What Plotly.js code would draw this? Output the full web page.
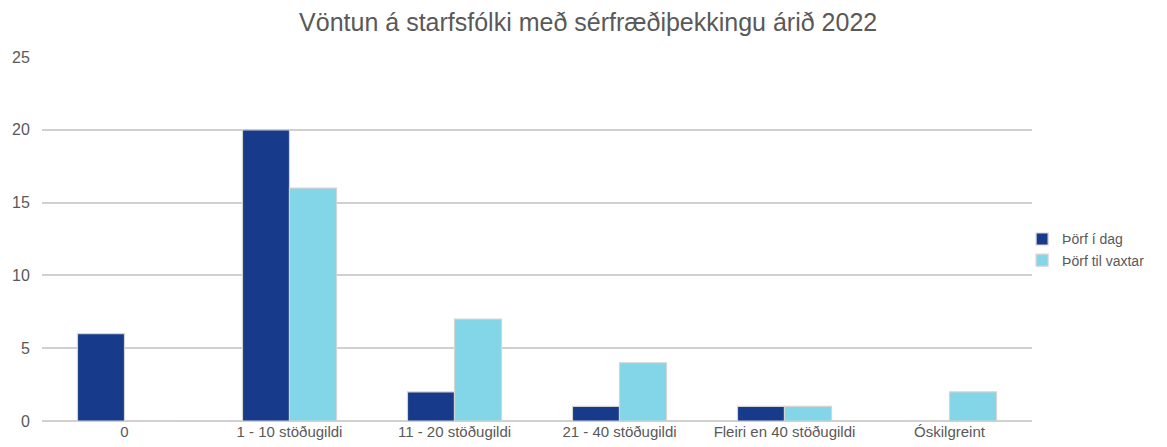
<!DOCTYPE html>
<html>
<head>
<meta charset="utf-8">
<script src="https://cdn.plot.ly/plotly-3.0.1.min.js"></script>
<style>html,body{margin:0;padding:0;background:#fff;}#chart{width:1167px;height:447px;}</style>
</head>
<body>
<div id="chart"></div>
<script>
const categories = ["0", "1 - 10 stöðugildi", "11 - 20 stöðugildi", "21 - 40 stöðugildi", "Fleiri en 40 stöðugildi", "Óskilgreint"];
const seriesNames = ["Þörf í dag", "Þörf til vaxtar"];
const thorfIDag = [6, 20, 2, 1, 1, 0];
const thorfTilVaxtar = [0, 16, 7, 4, 1, 2];
const yTicks = [0, 5, 10, 15, 20, 25];

const colors = ["#173A8A", "#82D6E8"];
const traces = [thorfIDag, thorfTilVaxtar].map((vals, i) => ({
  type: "bar",
  name: seriesNames[i],
  x: categories,
  y: vals,
  marker: {color: colors[i], line: {color: "#d4d4d4", width: 1.2}},
  hoverinfo: "x+y+name"
}));

const layout = {
  width: 1167, height: 447,
  margin: {l: 42, r: 135, t: 57, b: 26, autoexpand: false},
  paper_bgcolor: "#fff", plot_bgcolor: "#fff",
  font: {family: "Liberation Sans, Arial, sans-serif", color: "#595959", size: 14},
  title: {text: "Vöntun á starfsfólki með sérfræðiþekkingu árið 2022", x: 0.504, xanchor: "center", y: 0.95, yanchor: "middle", font: {size: 25, color: "#595959"}},
  barmode: "group",
  bargap: 0.43,
  bargroupgap: 0,
  xaxis: {type: "category", showgrid: false, showline: false, ticks: "", tickfont: {size: 15, color: "#595959"}, fixedrange: true},
  yaxis: {range: [0, 25], tickvals: yTicks, showgrid: true, gridcolor: "#d0d0d0", gridwidth: 1.5, zeroline: true, zerolinecolor: "#d0d0d0", zerolinewidth: 1.5, showline: false, ticks: "outside", ticklen: 8, tickcolor: "rgba(0,0,0,0)", tickfont: {size: 16, color: "#595959"}, fixedrange: true},
  legend: {x: 0.990, xanchor: "left", y: 0.47, yanchor: "middle", font: {size: 14, color: "#595959"}, itemwidth: 30, tracegroupgap: 4, bgcolor: "rgba(0,0,0,0)"},
  showlegend: true
};

Plotly.newPlot("chart", traces, layout, {displayModeBar: false, staticPlot: false});
</script>
</body>
</html>
